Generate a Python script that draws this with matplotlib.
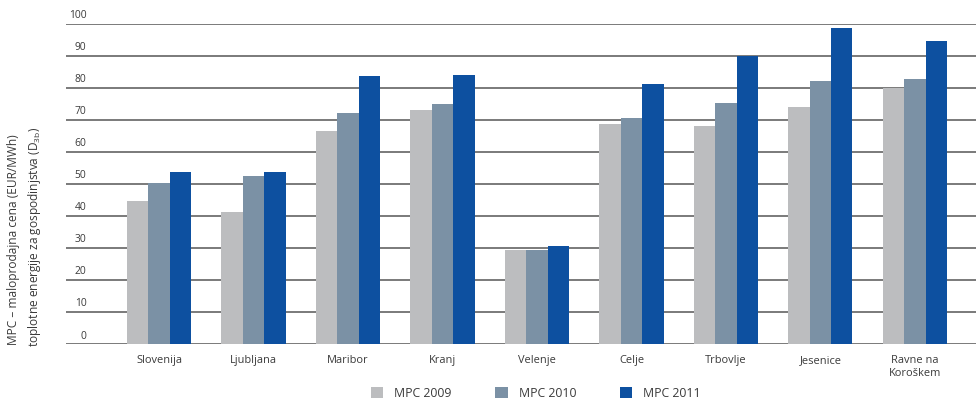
import numpy as np
import matplotlib.pyplot as plt
from matplotlib.patches import Patch
import matplotlib.transforms as mtransforms

plt.rcParams['font.family'] = ['Open Sans', 'DejaVu Sans']

# data
cities = ['Slovenija', 'Ljubljana', 'Maribor', 'Kranj', 'Velenje', 'Celje',
          'Trbovlje', 'Jesenice', 'Ravne na\nKoroškem']
mpc_2009 = [44.6, 41.3, 66.4, 73.0, 29.3, 68.6, 68.0, 73.9, 79.8]
mpc_2010 = [50.2, 52.5, 72.0, 74.8, 29.3, 70.5, 75.2, 82.0, 82.6]
mpc_2011 = [53.6, 53.6, 83.6, 83.9, 30.6, 81.1, 89.8, 98.5, 94.5]
yticks = list(range(0, 101, 10))
series_names = ['MPC 2009', 'MPC 2010', 'MPC 2011']
colors = ['#bcbdbf', '#7b91a5', '#0d50a0']

text_col = '#3a3a3a'
grid_col = '#707070'

fig = plt.figure(figsize=(9.76, 4.02), dpi=100)
ax = fig.add_axes([66/976, 1 - 345/402, 1 - 66/976, (345 - 24.5)/402])

x = np.arange(len(cities))
w = 0.226
for i, (vals, c) in enumerate(zip([mpc_2009, mpc_2010, mpc_2011], colors)):
    ax.bar(x + (i - 1) * w, vals, width=w, color=c, zorder=3, linewidth=0)

# horizontal grid lines with labels sitting on top of them
for t in yticks:
    ax.axhline(t, color=grid_col, lw=1.3, zorder=1)
trans = mtransforms.blended_transform_factory(ax.transAxes, ax.transData)
for t in yticks:
    ax.annotate(str(t), xy=(0.0225, t), xycoords=trans, xytext=(0, 2.5),
                textcoords='offset points', ha='right', va='bottom',
                fontsize=7.4, color=text_col)

ax.set_xlim(-0.984, 8.646)
ax.set_ylim(0, 100)
ax.set_yticks([])
ax.set_xticks(x)
ax.set_xticklabels(cities, fontsize=7.9, color=text_col, linespacing=1.15, va='top')
ax.tick_params(axis='x', length=0, pad=7.5)
for s in ax.spines.values():
    s.set_visible(False)

fig.text(14/976, 1 - 240/402, 'MPC – maloprodajna cena (EUR/MWh)', rotation=90,
         ha='center', va='center', fontsize=8.6, color=text_col)
fig.text(35/976, 1 - 237/402,
         r'toplotne energije za gospodinjstva (D$_{\mathregular{3b}}$)',
         rotation=90, ha='center', va='center', fontsize=8.6, color=text_col)

handles = [Patch(facecolor=c, edgecolor='none', label=n) for n, c in zip(series_names, colors)]
fig.legend(handles=handles, loc='center', bbox_to_anchor=(0.549, 1 - 394/402),
           ncol=3, frameon=False, fontsize=8.8, handlelength=1.0, handleheight=1.0,
           handletextpad=0.9, columnspacing=3.6, labelcolor=text_col,
           borderaxespad=0, borderpad=0)

fig.savefig('out.png', dpi=100)
